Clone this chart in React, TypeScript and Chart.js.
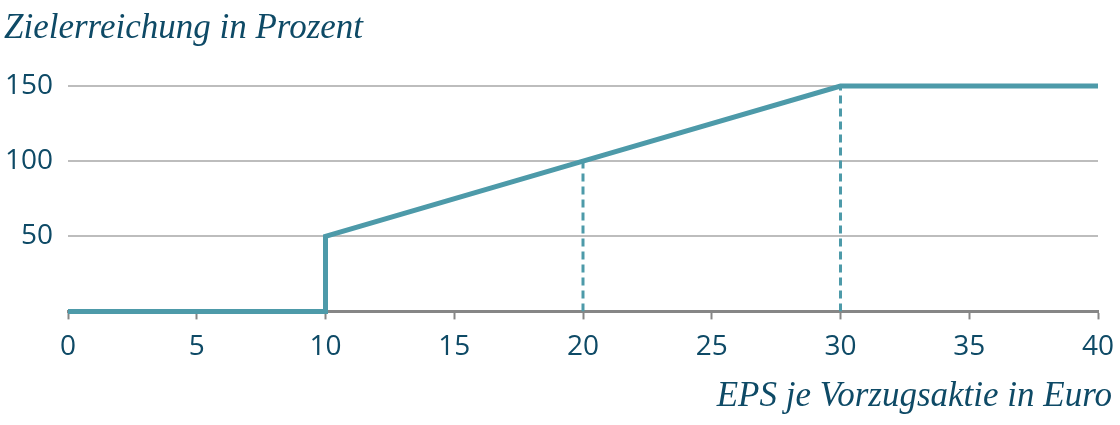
import { useEffect, useRef } from "react";
import { Chart, registerables, ChartConfiguration } from "chart.js";

Chart.register(...registerables);

// Zielerreichungskurve (EPS -> Prozent)
const epsValues = [0, 10, 10, 20, 30, 40];
const targetValues = [0, 0, 50, 100, 150, 150];

// gestrichelte Hilfslinien
const guide20X = [20, 20];
const guide20Y = [0, 100];
const guide30X = [30, 30];
const guide30Y = [0, 150];

const yTicks = [50, 100, 150];

const LINE_COLOR = "#4d9aa9";
const TEXT_COLOR = "#0e4a66";
const SERIF = { family: "Liberation Serif", size: 35, style: "italic" as const, weight: "normal" as const };
const SANS = { family: "Open Sans", size: 28 };

const toPoints = (xs: number[], ys: number[]) =>
  xs.map((x, i) => ({ x, y: ys[i] }));

export default function App() {
  const chartRef = useRef<HTMLCanvasElement>(null);
  const chartInstance = useRef<Chart | null>(null);

  useEffect(() => {
    document.body.style.margin = "0";
    if (!chartRef.current) return;
    if (chartInstance.current) chartInstance.current.destroy();

    const config: ChartConfiguration = {
      type: "line",
      data: {
        datasets: [
          {
            data: toPoints(epsValues, targetValues),
            borderColor: LINE_COLOR,
            borderWidth: 5,
            pointRadius: 0,
            tension: 0,
            fill: false,
            clip: 6,
          },
          {
            data: toPoints(guide20X, guide20Y),
            borderColor: LINE_COLOR,
            borderWidth: 3,
            borderDash: [8, 5],
            pointRadius: 0,
            fill: false,
          },
          {
            data: toPoints(guide30X, guide30Y),
            borderColor: LINE_COLOR,
            borderWidth: 3,
            borderDash: [8, 5],
            pointRadius: 0,
            fill: false,
          },
        ],
      },
      options: {
        animation: false,
        responsive: true,
        maintainAspectRatio: false,
        layout: { padding: { left: 4, right: 8, top: 8, bottom: 4 } },
        plugins: {
          legend: { display: false },
          tooltip: { enabled: false },
          title: {
            display: true,
            text: "Zielerreichung in Prozent",
            align: "start",
            color: TEXT_COLOR,
            font: SERIF,
            padding: { top: 0, bottom: 36 },
          },
          subtitle: {
            display: true,
            position: "bottom",
            text: "EPS je Vorzugsaktie in Euro",
            align: "end",
            color: TEXT_COLOR,
            font: SERIF,
            padding: { top: 1, bottom: 3 },
          },
        },
        scales: {
          x: {
            type: "linear",
            min: 0,
            max: 40,
            afterFit: (axis) => {
              axis.paddingRight = 22;
            },
            ticks: {
              stepSize: 5,
              color: TEXT_COLOR,
              font: SANS,
              padding: 11,
            },
            grid: {
              drawOnChartArea: false,
              drawTicks: true,
              tickLength: 8,
              tickColor: "#868686",
              tickWidth: 2,
            },
            border: { color: "#868686", width: 3 },
          },
          y: {
            min: 0,
            max: 150,
            afterBuildTicks: (axis) => {
              axis.ticks = [0, ...yTicks].map((v) => ({ value: v }));
            },
            afterFit: (axis) => {
              axis.width = 64;
              axis.paddingBottom = 0;
            },
            ticks: {
              color: TEXT_COLOR,
              font: SANS,
              padding: 15,
              callback: (v) => (v === 0 ? "" : String(v)),
            },
            grid: {
              color: "#bdbdbd",
              lineWidth: 2,
              drawTicks: false,
            },
            border: { display: false },
          },
        },
      },
    };

    chartInstance.current = new Chart(chartRef.current, config);
    return () => {
      if (chartInstance.current) chartInstance.current.destroy();
    };
  }, []);

  return (
    <div style={{ width: 1120, height: 425, position: "relative" }}>
      <canvas ref={chartRef}></canvas>
    </div>
  );
}
